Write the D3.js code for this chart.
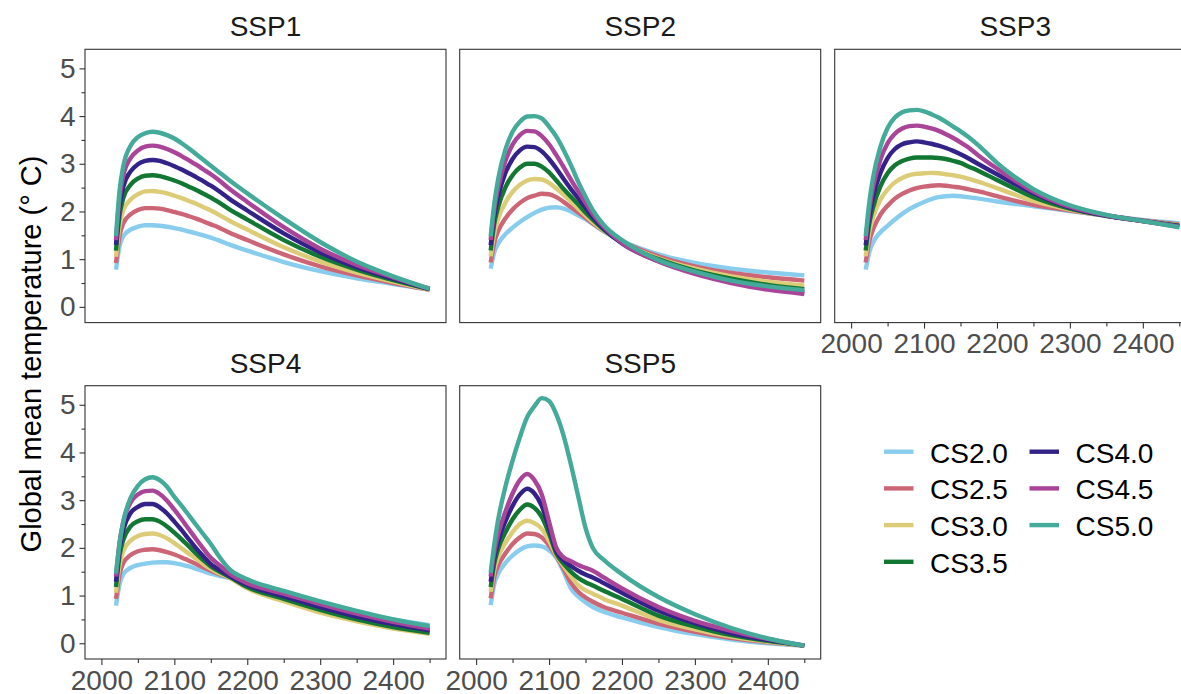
<!DOCTYPE html>
<html>
<head>
<meta charset="utf-8">
<script src="https://cdn.jsdelivr.net/npm/d3@7"></script>
<style>
body { margin: 0; background: #fff; }
text { font-family: "Liberation Sans", Arial, sans-serif; }
</style>
</head>
<body>
<div id="chart"></div>
<script>
// years
const years = [2020, 2025, 2030, 2040, 2050, 2060, 2070, 2080, 2090, 2100, 2110, 2120, 2130, 2140, 2150, 2160, 2175, 2200, 2250, 2300, 2350, 2400, 2450];

const sensitivities = ["CS2.0", "CS2.5", "CS3.0", "CS3.5", "CS4.0", "CS4.5", "CS5.0"];
const colours = ["#88CCEE", "#CC6677", "#DDCC77", "#117733", "#332288", "#AA4499", "#44AA99"];

const scenarios = ["SSP1", "SSP2", "SSP3", "SSP4", "SSP5"];

// one row per climate sensitivity, CS2.0 .. CS5.0
const ssp1 = [
  [0.78, 1.28, 1.48, 1.62, 1.68, 1.71, 1.71, 1.70, 1.68, 1.65, 1.62, 1.58, 1.54, 1.50, 1.45, 1.40, 1.31, 1.18, 0.94, 0.75, 0.60, 0.48, 0.36],
  [0.92, 1.50, 1.75, 1.94, 2.03, 2.07, 2.07, 2.06, 2.03, 1.99, 1.95, 1.90, 1.85, 1.79, 1.73, 1.67, 1.56, 1.40, 1.10, 0.85, 0.66, 0.50, 0.36],
  [1.05, 1.72, 2.02, 2.25, 2.36, 2.42, 2.43, 2.41, 2.38, 2.33, 2.28, 2.22, 2.16, 2.09, 2.02, 1.94, 1.81, 1.62, 1.25, 0.95, 0.72, 0.53, 0.36],
  [1.18, 1.93, 2.28, 2.56, 2.69, 2.75, 2.76, 2.74, 2.70, 2.65, 2.59, 2.52, 2.45, 2.37, 2.29, 2.20, 2.05, 1.83, 1.40, 1.05, 0.78, 0.56, 0.37],
  [1.30, 2.12, 2.52, 2.84, 2.99, 3.06, 3.08, 3.06, 3.01, 2.95, 2.88, 2.80, 2.72, 2.63, 2.54, 2.44, 2.27, 2.02, 1.54, 1.14, 0.83, 0.59, 0.37],
  [1.40, 2.30, 2.75, 3.12, 3.28, 3.36, 3.38, 3.36, 3.31, 3.24, 3.16, 3.07, 2.98, 2.88, 2.78, 2.67, 2.48, 2.20, 1.67, 1.22, 0.88, 0.62, 0.38],
  [1.48, 2.45, 2.95, 3.38, 3.56, 3.64, 3.67, 3.65, 3.60, 3.53, 3.43, 3.32, 3.20, 3.08, 2.96, 2.84, 2.66, 2.38, 1.85, 1.36, 0.95, 0.64, 0.38]
];

const ssp2 = [
  [0.80, 1.15, 1.32, 1.52, 1.66, 1.78, 1.88, 1.97, 2.04, 2.08, 2.09, 2.06, 2.00, 1.92, 1.84, 1.74, 1.58, 1.38, 1.10, 0.92, 0.80, 0.72, 0.66],
  [0.93, 1.35, 1.58, 1.85, 2.04, 2.18, 2.28, 2.33, 2.37, 2.36, 2.30, 2.20, 2.09, 1.98, 1.87, 1.75, 1.59, 1.37, 1.06, 0.85, 0.71, 0.62, 0.55],
  [1.06, 1.55, 1.84, 2.18, 2.41, 2.56, 2.65, 2.68, 2.67, 2.60, 2.48, 2.35, 2.21, 2.06, 1.92, 1.78, 1.60, 1.35, 1.02, 0.80, 0.64, 0.53, 0.45],
  [1.18, 1.75, 2.08, 2.50, 2.76, 2.92, 3.00, 3.00, 2.94, 2.82, 2.65, 2.47, 2.31, 2.15, 1.98, 1.83, 1.62, 1.34, 1.00, 0.76, 0.59, 0.46, 0.37],
  [1.29, 1.92, 2.30, 2.80, 3.10, 3.28, 3.36, 3.35, 3.26, 3.10, 2.90, 2.68, 2.47, 2.28, 2.08, 1.88, 1.64, 1.33, 0.96, 0.71, 0.53, 0.39, 0.30],
  [1.40, 2.06, 2.48, 3.05, 3.40, 3.60, 3.69, 3.68, 3.58, 3.41, 3.18, 2.93, 2.67, 2.42, 2.18, 1.95, 1.68, 1.34, 0.95, 0.69, 0.50, 0.36, 0.27],
  [1.48, 2.17, 2.66, 3.29, 3.67, 3.88, 3.99, 4.00, 3.95, 3.78, 3.57, 3.29, 2.97, 2.62, 2.31, 2.03, 1.72, 1.40, 0.98, 0.74, 0.55, 0.43, 0.35]
];

const ssp3 = [
  [0.78, 1.15, 1.35, 1.56, 1.70, 1.83, 1.95, 2.05, 2.13, 2.20, 2.26, 2.30, 2.32, 2.33, 2.32, 2.30, 2.27, 2.21, 2.11, 2.01, 1.91, 1.82, 1.75],
  [0.93, 1.38, 1.62, 1.93, 2.12, 2.27, 2.37, 2.44, 2.49, 2.52, 2.54, 2.55, 2.54, 2.52, 2.50, 2.47, 2.42, 2.32, 2.14, 2.02, 1.91, 1.81, 1.73],
  [1.06, 1.58, 1.87, 2.24, 2.46, 2.61, 2.70, 2.76, 2.79, 2.80, 2.81, 2.80, 2.78, 2.76, 2.73, 2.69, 2.62, 2.49, 2.22, 2.04, 1.91, 1.80, 1.71],
  [1.18, 1.75, 2.08, 2.52, 2.80, 2.97, 3.06, 3.11, 3.13, 3.13, 3.13, 3.12, 3.10, 3.06, 3.02, 2.95, 2.85, 2.66, 2.30, 2.06, 1.91, 1.80, 1.70],
  [1.29, 1.90, 2.30, 2.80, 3.12, 3.31, 3.41, 3.45, 3.47, 3.45, 3.42, 3.38, 3.33, 3.27, 3.20, 3.12, 2.99, 2.78, 2.38, 2.08, 1.91, 1.80, 1.69],
  [1.40, 2.05, 2.50, 3.08, 3.43, 3.63, 3.74, 3.79, 3.80, 3.78, 3.74, 3.69, 3.62, 3.54, 3.45, 3.35, 3.17, 2.90, 2.42, 2.10, 1.92, 1.80, 1.68],
  [1.48, 2.20, 2.70, 3.35, 3.75, 3.97, 4.08, 4.12, 4.13, 4.10, 4.04, 3.97, 3.88, 3.78, 3.68, 3.57, 3.38, 3.02, 2.47, 2.13, 1.93, 1.80, 1.67]
];

const ssp4 = [
  [0.79, 1.25, 1.45, 1.58, 1.64, 1.67, 1.69, 1.70, 1.70, 1.68, 1.65, 1.61, 1.56, 1.51, 1.46, 1.42, 1.37, 1.22, 1.03, 0.85, 0.66, 0.50, 0.38],
  [0.93, 1.45, 1.68, 1.85, 1.93, 1.96, 1.97, 1.95, 1.91, 1.86, 1.80, 1.73, 1.66, 1.59, 1.52, 1.46, 1.38, 1.17, 0.90, 0.67, 0.48, 0.33, 0.22],
  [1.06, 1.65, 1.93, 2.15, 2.25, 2.29, 2.30, 2.27, 2.20, 2.10, 1.99, 1.88, 1.77, 1.66, 1.56, 1.48, 1.38, 1.15, 0.88, 0.64, 0.46, 0.31, 0.20],
  [1.18, 1.85, 2.17, 2.45, 2.56, 2.60, 2.60, 2.55, 2.45, 2.32, 2.18, 2.03, 1.88, 1.74, 1.61, 1.52, 1.40, 1.18, 0.93, 0.70, 0.50, 0.34, 0.22],
  [1.29, 2.00, 2.38, 2.73, 2.86, 2.92, 2.92, 2.85, 2.72, 2.55, 2.37, 2.18, 1.99, 1.82, 1.66, 1.56, 1.42, 1.22, 0.98, 0.76, 0.56, 0.40, 0.27],
  [1.40, 2.12, 2.55, 2.95, 3.12, 3.19, 3.20, 3.13, 2.99, 2.80, 2.60, 2.39, 2.18, 1.98, 1.79, 1.66, 1.47, 1.26, 1.04, 0.82, 0.62, 0.45, 0.31],
  [1.46, 2.10, 2.55, 3.05, 3.30, 3.44, 3.48, 3.42, 3.28, 3.07, 2.88, 2.68, 2.48, 2.28, 2.08, 1.85, 1.56, 1.34, 1.10, 0.88, 0.68, 0.50, 0.36]
];

const ssp5 = [
  [0.80, 1.25, 1.45, 1.68, 1.84, 1.96, 2.03, 2.05, 2.03, 1.95, 1.80, 1.50, 1.15, 0.98, 0.86, 0.76, 0.66, 0.54, 0.34, 0.19, 0.08, 0.00, -0.05],
  [0.94, 1.40, 1.62, 1.88, 2.08, 2.22, 2.30, 2.29, 2.22, 2.05, 1.82, 1.56, 1.27, 1.08, 0.96, 0.87, 0.76, 0.64, 0.41, 0.24, 0.11, 0.02, -0.05],
  [1.08, 1.55, 1.80, 2.10, 2.33, 2.50, 2.57, 2.52, 2.40, 2.15, 1.84, 1.62, 1.40, 1.22, 1.11, 1.04, 0.93, 0.79, 0.49, 0.29, 0.14, 0.03, -0.05],
  [1.18, 1.68, 1.97, 2.32, 2.60, 2.80, 2.91, 2.84, 2.65, 2.30, 1.88, 1.67, 1.50, 1.37, 1.28, 1.21, 1.10, 0.93, 0.58, 0.35, 0.17, 0.05, -0.05],
  [1.29, 1.80, 2.12, 2.55, 2.88, 3.12, 3.24, 3.14, 2.88, 2.42, 1.94, 1.74, 1.62, 1.52, 1.44, 1.38, 1.26, 1.06, 0.68, 0.42, 0.21, 0.07, -0.05],
  [1.40, 1.92, 2.27, 2.75, 3.14, 3.42, 3.55, 3.42, 3.12, 2.55, 2.00, 1.80, 1.72, 1.64, 1.58, 1.52, 1.38, 1.15, 0.76, 0.47, 0.26, 0.09, -0.05],
  [1.48, 2.08, 2.57, 3.27, 3.83, 4.32, 4.74, 4.97, 5.14, 5.08, 4.80, 4.35, 3.75, 3.08, 2.42, 2.00, 1.75, 1.45, 0.97, 0.61, 0.32, 0.10, -0.05]
];

const yTicks = [0, 1, 2, 3, 4, 5];
const yMinor = [0.5, 1.5, 2.5, 3.5, 4.5];
const xTicks = [2000, 2100, 2200, 2300, 2400];
const xMinor = [2050, 2150, 2250, 2350, 2450];

let width = 1181;
let height = 694;
let pw = 361, ph = 273.3;
let cols = [85, 459.7, 834.7];
let rows = [49.3, 385.7];

let svg = d3.select("#chart")
  .append("svg")
  .attr("width", width)
  .attr("height", height);

svg.append("rect")
  .attr("width", width)
  .attr("height", height)
  .attr("fill", "white");

let xScale = d3.scaleLinear().domain([1977.5, 2472.5]).range([0, pw]);
let yScale = d3.scaleLinear().domain([-0.33, 5.4]).range([ph, 0]);

let line = d3.line()
  .x((d, i) => xScale(years[i]))
  .y(d => yScale(d))
  .curve(d3.curveMonotoneX);

let panels = [
  { data: ssp1, col: 0, row: 0, xAxis: false, yAxis: true },
  { data: ssp2, col: 1, row: 0, xAxis: false, yAxis: false },
  { data: ssp3, col: 2, row: 0, xAxis: true, yAxis: false },
  { data: ssp4, col: 0, row: 1, xAxis: true, yAxis: true },
  { data: ssp5, col: 1, row: 1, xAxis: true, yAxis: false }
];

function styleAxis(g) {
  g.select(".domain").remove();
  g.selectAll(".tick line").attr("stroke", "#333333").attr("stroke-width", 1.1);
  g.selectAll(".tick text")
    .attr("fill", "#4d4d4d")
    .style("font-size", "28px")
    .style("font-family", "'Liberation Sans', Arial, sans-serif");
}

panels.forEach((p, k) => {
  let g = svg.append("g")
    .attr("transform", `translate(${cols[p.col]},${rows[p.row]})`);

  // strip title
  svg.append("text")
    .attr("x", cols[p.col] + pw / 2)
    .attr("y", rows[p.row] - 13)
    .attr("text-anchor", "middle")
    .attr("fill", "#1a1a1a")
    .style("font-size", "28px")
    .text(scenarios[k]);

  g.selectAll("path.series")
    .data(p.data)
    .enter()
    .append("path")
    .attr("class", "series")
    .attr("d", d => line(d))
    .attr("fill", "none")
    .attr("stroke", (d, i) => colours[i])
    .attr("stroke-width", 4.4)
    .attr("stroke-linejoin", "round");

  g.append("rect")
    .attr("width", pw)
    .attr("height", ph)
    .attr("fill", "none")
    .attr("stroke", "#333333")
    .attr("stroke-width", 1.1);

  if (p.yAxis) {
    g.append("g").call(d3.axisLeft(yScale).tickValues(yTicks).tickSize(5.5).tickPadding(4).tickFormat(d3.format("d"))).call(styleAxis);
    g.append("g").call(d3.axisLeft(yScale).tickValues(yMinor).tickSize(3.5).tickFormat("")).call(styleAxis);
  }
  if (p.xAxis) {
    g.append("g").attr("transform", `translate(0,${ph})`)
      .call(d3.axisBottom(xScale).tickValues(xTicks).tickSize(6).tickPadding(5).tickFormat(d3.format("d"))).call(styleAxis);
    g.append("g").attr("transform", `translate(0,${ph})`)
      .call(d3.axisBottom(xScale).tickValues(xMinor).tickSize(4).tickFormat("")).call(styleAxis);
  }
});

// y axis title
svg.append("text")
  .attr("transform", "translate(41,354) rotate(-90)")
  .attr("text-anchor", "middle")
  .attr("fill", "black")
  .style("font-size", "29px")
  .text("Global mean temperature (\u00B0 C)");

// legend
let legend = svg.append("g");
sensitivities.forEach((s, i) => {
  let c = i < 4 ? 0 : 1;
  let r = i < 4 ? i : i - 4;
  let lx = c === 0 ? 884 : 1029.5;
  let ly = 451.7 + r * 36.7;
  legend.append("line")
    .attr("x1", lx).attr("x2", lx + 29.5)
    .attr("y1", ly).attr("y2", ly)
    .attr("stroke", colours[i])
    .attr("stroke-width", 4.4);
  legend.append("text")
    .attr("x", lx + 46)
    .attr("y", ly + 11)
    .attr("fill", "black")
    .style("font-size", "28px")
    .text(s);
});
</script>
</body>
</html>
